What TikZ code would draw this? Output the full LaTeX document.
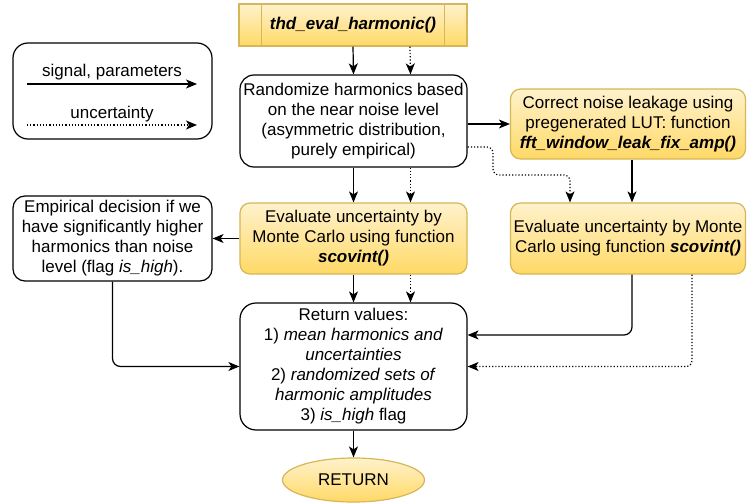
\documentclass[tikz,border=0pt]{standalone}
\usepackage{fontspec}
\setmainfont{Liberation Sans}
\usetikzlibrary{shapes.geometric,arrows.meta}
\definecolor{fillTop}{HTML}{FFF2CC}
\definecolor{fillBot}{HTML}{FFD966}
\definecolor{edgeY}{HTML}{D6B656}

\begin{document}
\begin{tikzpicture}[x=1pt,y=-1pt,line width=1.2pt,font=\fontsize{17}{20}\selectfont,box/.style={shape=rectangle,draw=black,rounded corners=12pt,align=center,inner sep=2pt},boxY/.style={box,draw=edgeY,top color=fillTop,bottom color=fillBot},sig/.style={-{Stealth[length=11pt,width=9pt,inset=3pt]}},unc/.style={sig,dotted}]
\def\dx{57pt};

\useasboundingbox (0,0) rectangle (747,503);

% legend
\node[box,rounded corners=15pt,minimum width=199pt,minimum height=96pt] (legend) at (112.5,91) {};
\node (lsig) at (112,72) {signal, parameters};
\coordinate (ls1) at (27,84);
\coordinate (ls2) at (197,84);
\draw[sig] (ls1) -- (ls2);
\node (lunc) at (112,114) {uncertainty};
\coordinate (lu1) at (27,125);
\coordinate (lu2) at (197,125);
\draw[unc] (lu1) -- (lu2);

% boxes
\node[boxY,rounded corners=0pt,minimum width=228pt,minimum height=42pt] (thd) at (353,25) {\textbf{\textit{thd\_eval\_harmonic()}}};
\draw[edgeY] ([xshift=23pt]thd.north west) -- ([xshift=23pt]thd.south west);
\draw[edgeY] ([xshift=-23pt]thd.north east) -- ([xshift=-23pt]thd.south east);

\node[box,rounded corners=14pt,minimum width=227pt,minimum height=92pt] (rand) at (353.5,121) {Randomize harmonics based\\on the near noise level\\(asymmetric distribution,\\purely empirical)};
\node[boxY,rounded corners=10pt,minimum width=235pt,minimum height=70pt] (leak) at (628,124) {Correct noise leakage using\\pregenerated LUT: function\\\textbf{\textit{fft\_window\_leak\_fix\_amp()}}};
\node[boxY,rounded corners=10pt,minimum width=227pt,minimum height=71pt] (eval1) at (353.5,238.5) {Evaluate uncertainty by\\Monte Carlo using function\\\textbf{\textit{scovint()}}};
\node[boxY,rounded corners=10pt,minimum width=235pt,minimum height=71pt] (eval2) at (628,238.5) {Evaluate uncertainty by Monte\\Carlo using function \textbf{\textit{scovint()}}};
\node[box,rounded corners=12pt,minimum width=199pt,minimum height=85pt] (empir) at (112.5,238.5) {Empirical decision if we\\have significantly higher\\harmonics than noise\\level (flag \textit{is\_high}).};
\node[box,rounded corners=16pt,minimum width=227pt,minimum height=127pt] (retval) at (353.5,366.5) {Return values:\\1) \textit{mean harmonics and}\\\textit{uncertainties}\\2) \textit{randomized sets of}\\\textit{harmonic amplitudes}\\3) \textit{is\_high} flag};
\node[ellipse,draw=edgeY,top color=fillTop,bottom color=fillBot,minimum width=142pt,minimum height=44pt,inner sep=0pt] (retend) at (353.5,480) {RETURN};

% signal
\draw[sig] (thd.south) -- (rand.north);
\draw[sig] (rand.south) -- (eval1.north);
\draw[sig] (eval1.south) -- (retval.north);
\draw[sig] (retval.south) -- (retend.north);
\draw[sig] (rand.east |- leak.west) -- (leak.west);
\draw[sig] ([xshift=4pt]leak.south) -- ([xshift=4pt]eval2.north);
\draw[sig] (eval1.west) -- (empir.east);
\draw[sig,rounded corners=8pt] ([xshift=4pt]eval2.south) |- ([yshift=31.5pt]retval.east);
\draw[sig,rounded corners=8pt] (empir.south) |- (retval.west);

% uncertainty
\draw[unc] ([xshift=\dx]thd.south) -- ([xshift=\dx]rand.north);
\draw[unc] ([xshift=\dx]rand.south) -- ([xshift=\dx]eval1.north);
\draw[unc] ([xshift=\dx]eval1.south) -- ([xshift=\dx]retval.north);
\coordinate (bend) at (493,175);
\draw[unc,rounded corners=6pt] ([yshift=-26pt]rand.east) -| (bend) -| ([xshift=-58pt]eval2.north);
\draw[unc,rounded corners=6pt] ([xshift=64pt]eval2.south) |- (retval.east);

\end{tikzpicture}
\end{document}
